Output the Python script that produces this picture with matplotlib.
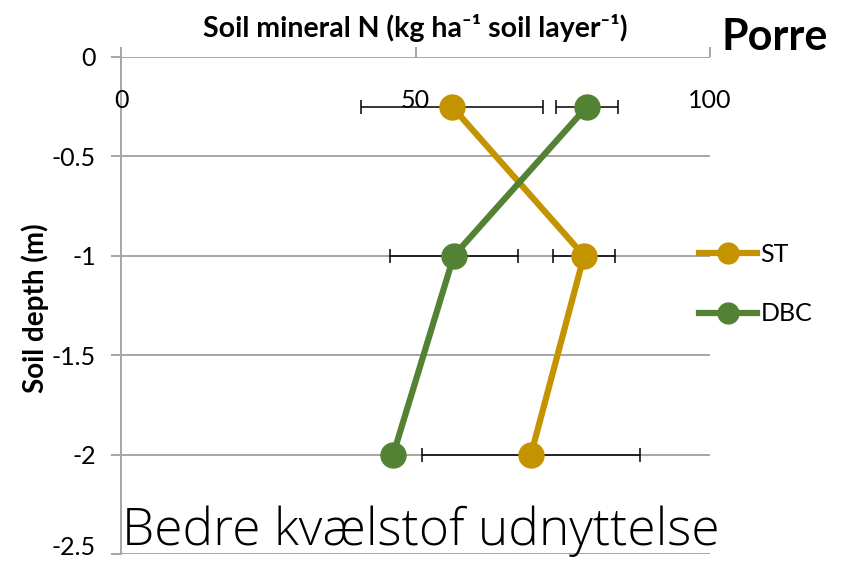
#!/usr/bin/env python3

import matplotlib
matplotlib.use('Agg')
import matplotlib.pyplot as plt
from matplotlib import transforms
from matplotlib.lines import Line2D

# soil depth (m) and mineral N (kg ha-1 soil layer-1)
depth = [-0.25, -1.0, -2.0]
st_n = [56.2, 78.6, 69.6]
st_err = [15.4, 5.2, 18.5]
dbc_n = [79.1, 56.5, 46.2]
dbc_err = [5.3, 10.9, 1.5]

x_ticks = [0, 50, 100]
y_ticks = [0, -0.5, -1, -1.5, -2, -2.5]
y_labels = ['0', '-0.5', '-1', '-1.5', '-2', '-2.5']

st_color = '#C49400'
dbc_color = '#548235'
grid_color = '#A6A6A6'

plt.rcParams['font.family'] = ['Lato', 'DejaVu Sans']


def main():
    fig = plt.figure(figsize=(8.47, 5.63), dpi=100)
    ax = fig.add_axes([0.1429, 0.016, 0.8383 - 0.1429, 0.8988 - 0.016])

    ax.set_xlim(0, 100)
    ax.set_ylim(-2.5, 0)

    for y in y_ticks:
        ax.axhline(y, color=grid_color, lw=1.4, zorder=1)

    for name, vals, err, col in [('ST', st_n, st_err, st_color),
                                 ('DBC', dbc_n, dbc_err, dbc_color)]:
        ax.errorbar(vals, depth, xerr=err, fmt='none', ecolor='black',
                    elinewidth=1.1, capsize=5, capthick=1.1, zorder=2)
        ax.plot(vals, depth, color=col, lw=4.5, marker='o', ms=18,
                label=name, zorder=3)

    for s in ['right', 'bottom', 'top']:
        ax.spines[s].set_visible(False)
    ax.spines['left'].set_color(grid_color)
    ax.spines['left'].set_linewidth(1.4)

    ax.xaxis.set_ticks_position('top')
    ax.set_xticks(x_ticks)
    ax.set_xticklabels([])
    ax.tick_params(axis='x', direction='out', length=7, width=1.4,
                   color=grid_color)
    ax.set_yticks(y_ticks)
    ax.set_yticklabels(y_labels, fontsize=18)
    ax.tick_params(axis='y', direction='out', length=7, width=1.4,
                   color=grid_color, pad=11)
    # keep the lowest label inside the figure
    low = ax.get_yticklabels()[-1]
    low.set_transform(low.get_transform() + transforms.ScaledTranslation(
        0, 6 / 72, fig.dpi_scale_trans))

    # x labels sit below the zero line, as in the original sheet
    for xv in x_ticks:
        ax.text(xv, -0.22, str(xv), ha='center', va='center', fontsize=18)

    fig.text(0.49, 0.95, 'Soil mineral N (kg ha⁻¹ soil layer⁻¹)',
             ha='center', va='center', fontsize=20.5, fontweight='bold')
    fig.text(0.041, 0.453, 'Soil depth (m)', rotation=90, ha='center',
             va='center', fontsize=20, fontweight='bold')
    fig.text(0.852, 0.935, 'Porre', ha='left', va='center', fontsize=31,
             fontweight='bold')
    fig.text(0.144, 0.032, 'Bedre kvælstof udnyttelse', ha='left',
             va='baseline', fontsize=37, family=['Open Sans', 'DejaVu Sans'],
             fontweight='light')

    handles = [Line2D([], [], color=st_color, lw=4.5, marker='o', ms=15),
               Line2D([], [], color=dbc_color, lw=4.5, marker='o', ms=15)]
    fig.legend(handles, ['ST', 'DBC'], loc='center left',
               bbox_to_anchor=(0.799, 0.495), frameon=False, fontsize=18,
               handlelength=2.3, handletextpad=0.15, labelspacing=1.45)

    fig.savefig('out.png', dpi=100)


if __name__ == '__main__':
    main()
